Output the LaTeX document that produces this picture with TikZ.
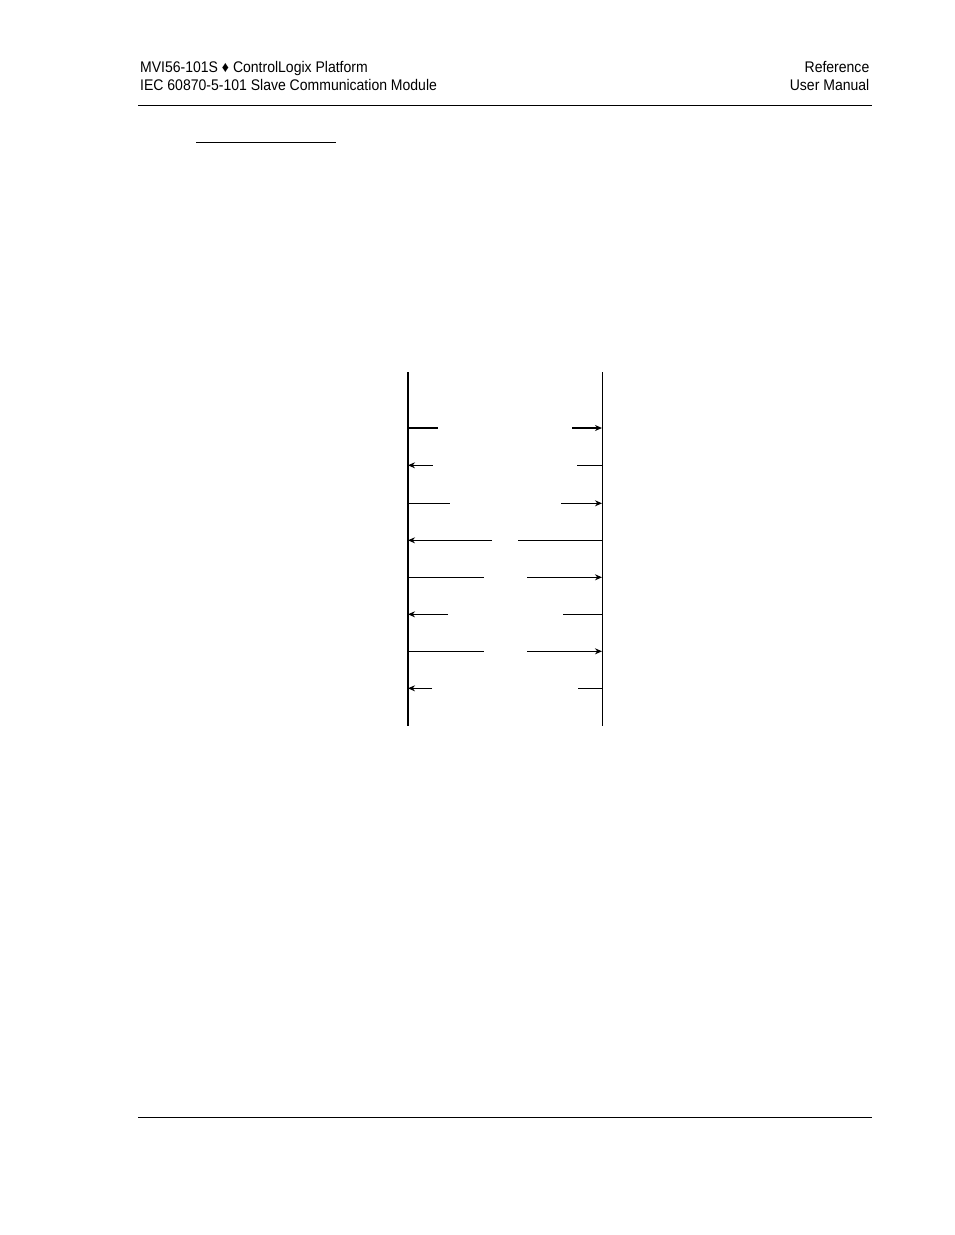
\documentclass[tikz,border=0pt]{standalone}
\usepackage{fontspec}
\setmainfont{Liberation Sans}
\newfontfamily\hdrfont[FakeStretch=0.91]{Liberation Sans}
\usetikzlibrary{arrows.meta}
\begin{document}
\begin{tikzpicture}[x=1pt,y=-1pt,
  hdr/.style={inner sep=0pt,font=\hdrfont\fontsize{15.4}{18}\selectfont},
  rule/.style={line width=1pt},
  life/.style={line width=1pt},
  lifethick/.style={line width=2pt},
  msg/.style={line width=1pt},
  msgthick/.style={line width=2pt},
  tip/.style={-{Stealth[length=7pt,width=6pt]}}]
\useasboundingbox (0,0) rectangle (954,1235);
% header
\node[hdr,anchor=base west] (h1) at (140,72.3) {MVI56-101S ♦ ControlLogix Platform};
\node[hdr,anchor=base west] (h2) at (140,90.3) {IEC 60870-5-101 Slave Communication Module};
\node[hdr,anchor=base east] (h3) at (869.5,72.3) {Reference};
\node[hdr,anchor=base east] (h4) at (869.5,90.3) {User Manual};
\coordinate (hl1) at (138,105); \coordinate (hl2) at (872,105);
\draw[rule] (hl1) -- (hl2);
\coordinate (ul1) at (196,142); \coordinate (ul2) at (336,142);
\draw[rule] (ul1) -- (ul2);
\coordinate (fl1) at (138,1117); \coordinate (fl2) at (872,1117);
\draw[rule] (fl1) -- (fl2);
% lifelines
\coordinate (Lt) at (408,372); \coordinate (Lb) at (408,726);
\coordinate (Rt) at (602,372); \coordinate (Rb) at (602,726);
\draw[lifethick] (Lt) -- (Lb);
\draw[life] (Rt) -- (Rb);
% messages: left end, left gap end, right gap start, right end
\foreach \i/\y/\a/\b in {1/428/437.7/572,2/465.3/432.7/577,3/503.3/450/561,4/540.3/492/518,5/577.3/484/527,6/614.3/448/563,7/651.3/484/527,8/688.3/432/578}{
  \coordinate (m\i L) at (408,\y);
  \coordinate (m\i a) at (\a,\y);
  \coordinate (m\i b) at (\b,\y);
  \coordinate (m\i R) at (602,\y);
}
\draw[msgthick] (m1L) -- (m1a);
\draw[msgthick,tip] (m1b) -- (m1R);
\foreach \i in {3,5,7}{
  \draw[msg] (m\i L) -- (m\i a);
  \draw[msg,tip] (m\i b) -- (m\i R);
}
\foreach \i in {2,4,6,8}{
  \draw[msg,tip] (m\i a) -- (m\i L);
  \draw[msg] (m\i R) -- (m\i b);
}
\end{tikzpicture}
\end{document}
